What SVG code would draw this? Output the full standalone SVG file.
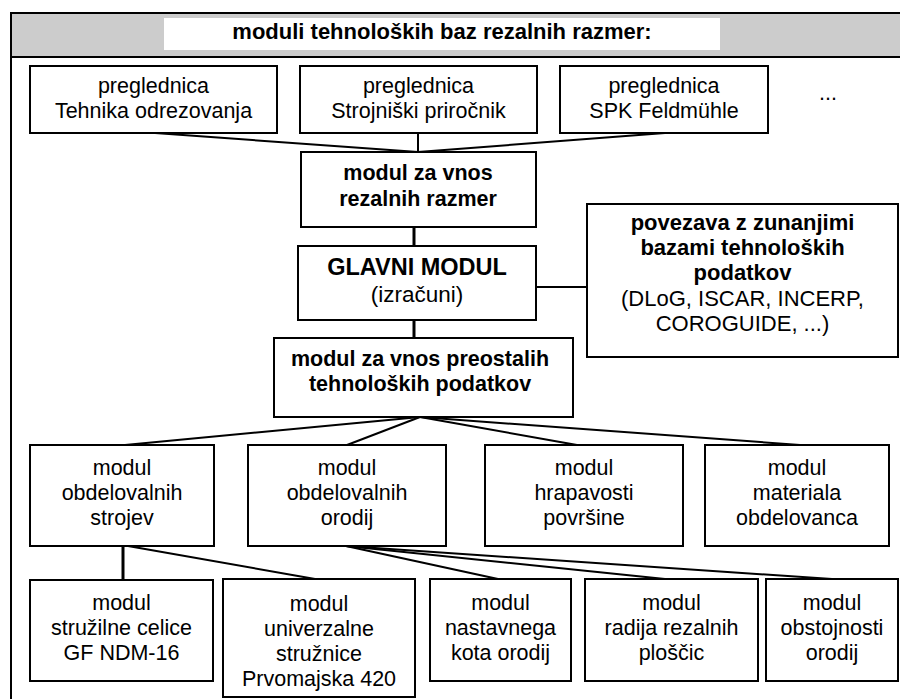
<svg xmlns="http://www.w3.org/2000/svg" width="900" height="699" viewBox="0 0 900 699">
  <style>
    .box { fill: #ffffff; stroke: #000000; stroke-width: 2; }
    .t { font-family: "Liberation Sans", Arial, sans-serif; font-size: 21.5px; fill: #000000; text-anchor: middle; }
    .b { font-weight: bold; }
    .ln { stroke: #000000; stroke-width: 2; fill: none; }
    .thick { stroke-width: 3; }
  </style>

  <rect x="0" y="0" width="900" height="699" fill="#ffffff"/>

  <!-- frame and header band -->
  <g id="frame">
    <rect x="11" y="13" width="895" height="44" fill="#cccccc"/>
    <line x1="11" y1="13" x2="900" y2="13" class="ln"/>
    <line x1="11" y1="57" x2="900" y2="57" class="ln"/>
    <line x1="11" y1="12" x2="11" y2="699" class="ln"/>
    <rect x="164" y="18" width="556" height="32" fill="#ffffff"/>
    <text class="t b" x="442" y="39" style="font-size:22px">moduli tehnoloških baz rezalnih razmer:</text>
  </g>

  <!-- connectors -->
  <g id="connectors">
    <line x1="155" y1="133" x2="418" y2="152" class="ln"/>
    <line x1="418" y1="133" x2="418" y2="152" class="ln"/>
    <line x1="665" y1="133" x2="418" y2="152" class="ln"/>
    <line x1="414" y1="227" x2="414" y2="246" class="ln thick"/>
    <line x1="536" y1="287" x2="587" y2="287" class="ln"/>
    <line x1="414" y1="320" x2="414" y2="338" class="ln thick"/>
    <line x1="420" y1="417" x2="125" y2="445" class="ln"/>
    <line x1="420" y1="417" x2="347" y2="445" class="ln"/>
    <line x1="420" y1="417" x2="577" y2="445" class="ln"/>
    <line x1="420" y1="417" x2="800" y2="445" class="ln"/>
    <line x1="123" y1="546" x2="123" y2="580" class="ln thick"/>
    <line x1="128" y1="546" x2="315" y2="579" class="ln"/>
    <line x1="346" y1="546" x2="498" y2="579" class="ln"/>
    <line x1="346" y1="546" x2="665" y2="579" class="ln"/>
    <line x1="346" y1="546" x2="832" y2="579" class="ln"/>
  </g>

  <!-- source tables -->
  <g id="tab-tehnika">
    <rect class="box" x="30" y="66" width="247" height="67"/>
    <text class="t" x="153.5" y="93">preglednica</text>
    <text class="t" x="153.5" y="118">Tehnika odrezovanja</text>
  </g>
  <g id="tab-prirocnik">
    <rect class="box" x="300" y="66" width="237" height="67"/>
    <text class="t" x="418.5" y="93">preglednica</text>
    <text class="t" x="418.5" y="118">Strojniški priročnik</text>
  </g>
  <g id="tab-spk">
    <rect class="box" x="560" y="66" width="208" height="67"/>
    <text class="t" x="664" y="93">preglednica</text>
    <text class="t" x="664" y="118">SPK Feldmühle</text>
  </g>
  <g id="more">
    <text class="t" x="828" y="100">...</text>
  </g>

  <!-- input of cutting conditions -->
  <g id="vnos-razmer">
    <rect class="box" x="301" y="152" width="235" height="75"/>
    <text class="t b" x="418" y="180">modul za vnos</text>
    <text class="t b" x="418" y="205.5">rezalnih razmer</text>
  </g>

  <!-- main module -->
  <g id="glavni">
    <rect class="box" x="298" y="246" width="238" height="74"/>
    <text class="t b" x="417" y="275" style="font-size:23.5px">GLAVNI MODUL</text>
    <text class="t" x="417" y="302" style="font-size:22.5px">(izračuni)</text>
  </g>

  <!-- external databases -->
  <g id="povezava">
    <rect class="box" x="587" y="204" width="311" height="153"/>
    <text class="t b" x="742.5" y="230" style="font-size:22px">povezava z zunanjimi</text>
    <text class="t b" x="742.5" y="255" style="font-size:22px">bazami tehnoloških</text>
    <text class="t b" x="742.5" y="280" style="font-size:22px">podatkov</text>
    <text class="t" x="742.5" y="306" style="font-size:22px">(DLoG, ISCAR, INCERP,</text>
    <text class="t" x="742.5" y="331" style="font-size:22px">COROGUIDE, ...)</text>
  </g>

  <!-- input of other technological data -->
  <g id="vnos-preostalih">
    <rect class="box" x="274" y="338" width="299" height="79"/>
    <text class="t b" x="420" y="366">modul za vnos preostalih</text>
    <text class="t b" x="420" y="391">tehnoloških podatkov</text>
  </g>

  <!-- second level modules -->
  <g id="strojev">
    <rect class="box" x="30" y="445" width="184" height="101"/>
    <text class="t" x="122" y="475">modul</text>
    <text class="t" x="122" y="500">obdelovalnih</text>
    <text class="t" x="122" y="525">strojev</text>
  </g>
  <g id="orodij">
    <rect class="box" x="248" y="445" width="198" height="101"/>
    <text class="t" x="347" y="475">modul</text>
    <text class="t" x="347" y="500">obdelovalnih</text>
    <text class="t" x="347" y="525">orodij</text>
  </g>
  <g id="hrapavost">
    <rect class="box" x="485" y="445" width="198" height="101"/>
    <text class="t" x="584" y="475">modul</text>
    <text class="t" x="584" y="500">hrapavosti</text>
    <text class="t" x="584" y="525">površine</text>
  </g>
  <g id="material">
    <rect class="box" x="705" y="445" width="184" height="101"/>
    <text class="t" x="797" y="475">modul</text>
    <text class="t" x="797" y="500">materiala</text>
    <text class="t" x="797" y="525">obdelovanca</text>
  </g>

  <!-- third level modules -->
  <g id="celica">
    <rect class="box" x="30" y="580" width="183" height="101"/>
    <text class="t" x="121.5" y="610">modul</text>
    <text class="t" x="121.5" y="635">stružilne celice</text>
    <text class="t" x="121.5" y="660">GF NDM-16</text>
  </g>
  <g id="struznica">
    <rect class="box" x="223" y="579" width="192" height="118"/>
    <text class="t" x="319" y="611">modul</text>
    <text class="t" x="319" y="636">univerzalne</text>
    <text class="t" x="319" y="661">stružnice</text>
    <text class="t" x="319" y="686">Prvomajska 420</text>
  </g>
  <g id="kot">
    <rect class="box" x="430" y="579" width="141" height="102"/>
    <text class="t" x="500.5" y="610">modul</text>
    <text class="t" x="500.5" y="635">nastavnega</text>
    <text class="t" x="500.5" y="660">kota orodij</text>
  </g>
  <g id="radij">
    <rect class="box" x="585" y="579" width="173" height="102"/>
    <text class="t" x="671.5" y="610">modul</text>
    <text class="t" x="671.5" y="635">radija rezalnih</text>
    <text class="t" x="671.5" y="660">ploščic</text>
  </g>
  <g id="obstojnost">
    <rect class="box" x="766" y="579" width="132" height="102"/>
    <text class="t" x="832" y="610">modul</text>
    <text class="t" x="832" y="635">obstojnosti</text>
    <text class="t" x="832" y="660">orodij</text>
  </g>
</svg>
